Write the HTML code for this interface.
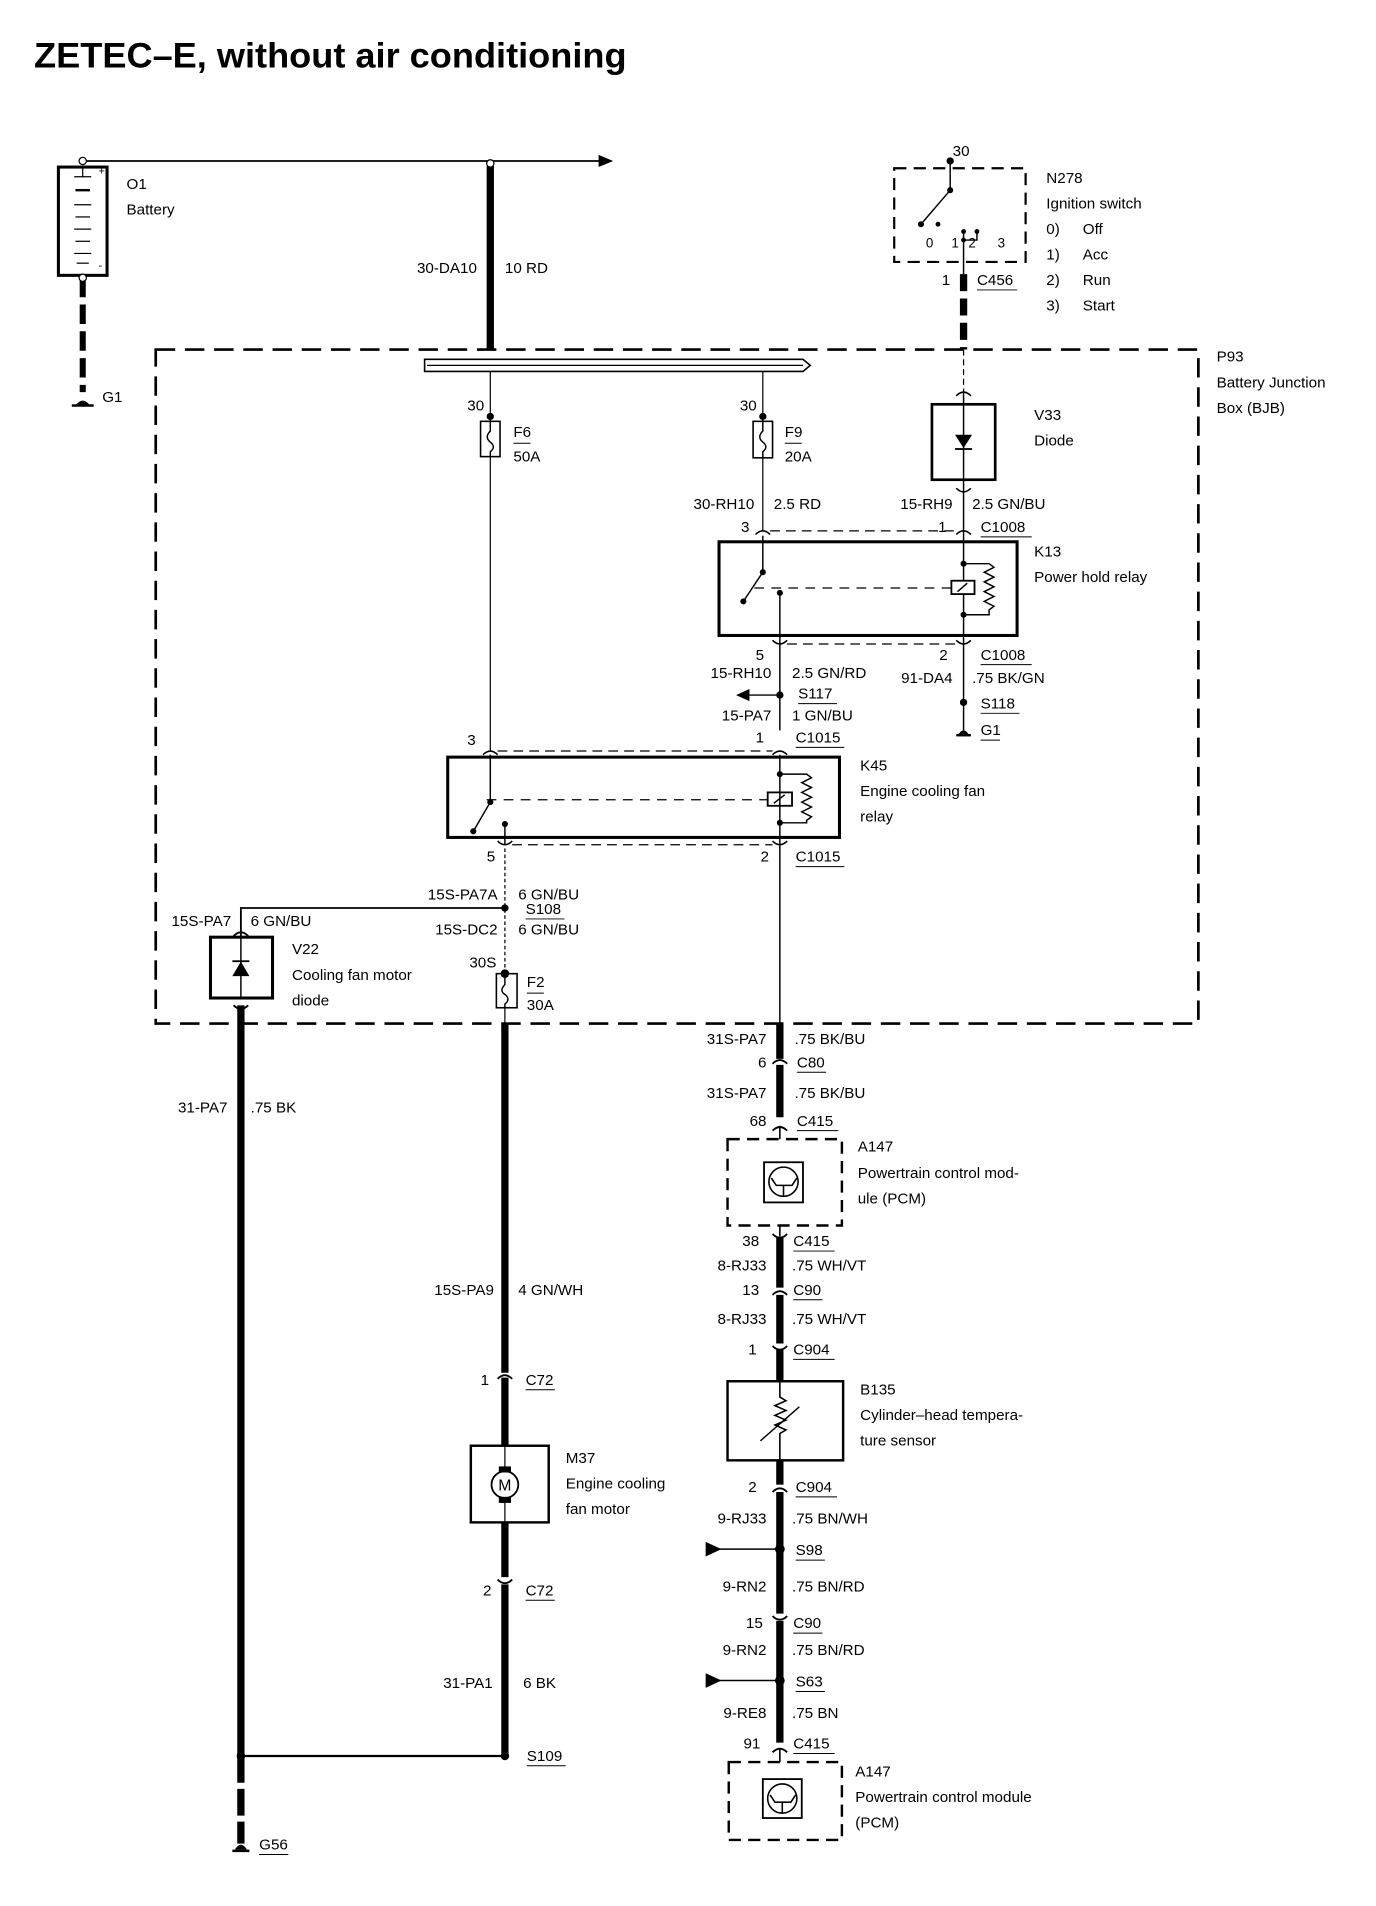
<!DOCTYPE html>
<html><head><meta charset="utf-8"><style>
html,body{margin:0;padding:0;background:#fff;}
svg{display:block;}
text{font-family:"Liberation Sans",sans-serif;font-size:12.5px;fill:#000;}
.r{text-anchor:end;}
.b{font-weight:bold;}
</style></head><body>
<svg width="1376" height="1906" viewBox="0 0 1131 1566" xmlns="http://www.w3.org/2000/svg">
<rect width="1131" height="1566" fill="#fff"/>
<text x="28" y="55" class="b" style="font-size:29px" textLength="487" lengthAdjust="spacingAndGlyphs">ZETEC–E, without air conditioning</text>

<g stroke="#000" fill="none">
<rect x="48" y="137" width="40" height="89" stroke-width="2.5"/>
<line x1="68" y1="132" x2="500" y2="132" stroke-width="1.5"/>
<line x1="68" y1="137" x2="68" y2="145" stroke-width="1"/>
<g stroke-width="1">
<line x1="61" y1="145" x2="75" y2="145"/><line x1="62" y1="156" x2="74" y2="156" stroke-width="2"/>
<line x1="61" y1="168" x2="75" y2="168"/><line x1="62" y1="178" x2="74" y2="178"/>
<line x1="61" y1="188" x2="75" y2="188"/><line x1="62" y1="198" x2="74" y2="198"/>
<line x1="61" y1="208" x2="75" y2="208"/><line x1="63" y1="216" x2="73" y2="216"/>
</g>
<line x1="68" y1="228" x2="68" y2="322" stroke-width="5" stroke-dasharray="16,6"/>
<line x1="403" y1="136" x2="403" y2="287" stroke-width="6"/>
<rect x="128" y="287" width="857" height="554" stroke-width="2.2" stroke-dasharray="16,8"/>
<path d="M349 295 H660 L666 300 L660 305 H349 Z" stroke-width="1.3"/>
<line x1="351" y1="300" x2="660" y2="300" stroke-width="1"/>
<line x1="403" y1="305" x2="403" y2="617" stroke-width="1"/>
<rect x="395" y="346" width="16" height="29" fill="#fff" stroke-width="1.3"/>
<path d="M403 346 v8 q-5 5 0 9 q5 4 0 8 v4" stroke-width="1.2"/>
<line x1="627" y1="305" x2="627" y2="436" stroke-width="1"/>
<rect x="619" y="346" width="16" height="30" fill="#fff" stroke-width="1.3"/>
<path d="M627 346 v8 q-5 5 0 9 q5 4 0 8 v5" stroke-width="1.2"/>
<rect x="735" y="138" width="108" height="77" stroke-width="1.8" stroke-dasharray="10,6"/>
<line x1="781" y1="132" x2="781" y2="156" stroke-width="1.2"/>
<line x1="781" y1="156" x2="757" y2="184" stroke-width="1.2"/>
<path d="M792 197 V190 M792 197 H803 V190" stroke-width="1.2"/>
<line x1="792" y1="197" x2="792" y2="225" stroke-width="1.2"/>
<line x1="792" y1="225" x2="792" y2="287" stroke-width="6" stroke-dasharray="14,6"/>
<line x1="792" y1="287" x2="792" y2="332" stroke-width="1" stroke-dasharray="5,3"/>
<rect x="766" y="332" width="52" height="62" stroke-width="2.2"/>
<line x1="792" y1="324" x2="792" y2="577" stroke-width="1.2"/>
<path d="M786 325 q6 -6 12 0 M786 401 q6 6 12 0" stroke-width="1.3"/>
<line x1="633" y1="436" x2="786" y2="436" stroke-width="1" stroke-dasharray="8,5"/>
<path d="M621 439 q6 -6 12 0 M786 439 q6 -6 12 0" stroke-width="1.3"/>
<rect x="591" y="445" width="245" height="77" stroke-width="2.5"/>
<line x1="627" y1="440" x2="627" y2="470" stroke-width="1.2"/>
<line x1="627" y1="470" x2="611" y2="494" stroke-width="1.2"/>
<line x1="641" y1="487" x2="641" y2="600" stroke-width="1.2"/>
<line x1="620" y1="483" x2="782" y2="483" stroke-width="1" stroke-dasharray="8,6"/>
<rect x="782" y="477" width="19" height="11" stroke-width="1.5" fill="#fff"/>
<line x1="787" y1="486" x2="795" y2="479" stroke-width="1.2"/>
<path d="M792 463 H813 l4 3 -8 4 8 4 -8 4 8 4 -8 4 8 4 -8 4 8 4 -4 3 V505 H792" stroke-width="1.2"/>
<line x1="647" y1="529" x2="786" y2="529" stroke-width="1" stroke-dasharray="8,5"/>
<path d="M635 526 q6 6 12 0 M786 526 q6 6 12 0" stroke-width="1.3"/>
<line x1="616" y1="571" x2="641" y2="571" stroke-width="1.2"/>
<line x1="792" y1="577" x2="792" y2="600" stroke-width="1.2"/>
<line x1="786" y1="604" x2="798" y2="604" stroke-width="2"/>
<line x1="409" y1="617" x2="635" y2="617" stroke-width="1" stroke-dasharray="8,5"/>
<path d="M397 620 q6 -6 12 0 M635 620 q6 -6 12 0" stroke-width="1.3"/>
<rect x="368" y="622" width="322" height="66" stroke-width="2.5"/>
<line x1="403" y1="620" x2="403" y2="659" stroke-width="1.2"/>
<line x1="403" y1="659" x2="389" y2="683" stroke-width="1.2"/>
<line x1="415" y1="677" x2="415" y2="694" stroke-width="1.2"/>
<line x1="400" y1="657" x2="631" y2="657" stroke-width="1" stroke-dasharray="8,6"/>
<rect x="631" y="651" width="20" height="11" stroke-width="1.5" fill="#fff"/>
<line x1="636" y1="660" x2="645" y2="653" stroke-width="1.2"/>
<line x1="641" y1="620" x2="641" y2="841" stroke-width="1.2"/>
<path d="M641 636 H663 l4 3 -8 4 8 4 -8 4 8 4 -8 4 8 4 -8 4 8 4 -4 3 V676 H641" stroke-width="1.2"/>
<line x1="421" y1="694" x2="635" y2="694" stroke-width="1" stroke-dasharray="8,5"/>
<path d="M409 691 q6 6 12 0 M635 691 q6 6 12 0" stroke-width="1.3"/>
<line x1="415" y1="697" x2="415" y2="800" stroke-width="1" stroke-dasharray="3,2"/>
<path d="M198 770 V746 H415" stroke-width="1.5"/>
<path d="M192 769 q6 -6 12 0 M192 826 q6 6 12 0" stroke-width="1.5"/>
<rect x="173" y="770" width="51" height="50" stroke-width="2.5"/>
<line x1="198" y1="770" x2="198" y2="820" stroke-width="1.2"/>
<rect x="408" y="800" width="17" height="28" stroke-width="1.3"/>
<path d="M415 800 v9 q-5 5 0 8 q5 4 0 8 v3" stroke-width="1.2"/>
<line x1="415" y1="828" x2="415" y2="841" stroke-width="1"/>
<line x1="198" y1="826" x2="198" y2="1443" stroke-width="6"/>
<line x1="198" y1="1443" x2="198" y2="1515" stroke-width="6" stroke-dasharray="22,5"/>
<line x1="191" y1="1521" x2="205" y2="1521" stroke-width="2"/>
<line x1="415" y1="841" x2="415" y2="1128" stroke-width="6"/>
<path d="M409 1133 q6 -6 12 0" stroke-width="1.5"/>
<line x1="415" y1="1132" x2="415" y2="1188" stroke-width="6"/>
<rect x="387" y="1188" width="64" height="63" stroke-width="2"/>
<line x1="415" y1="1188" x2="415" y2="1251" stroke-width="1"/>
<circle cx="415" cy="1220" r="11" fill="#fff" stroke-width="1.5"/>
<line x1="415" y1="1251" x2="415" y2="1296" stroke-width="6"/>
<path d="M409 1298 q6 6 12 0" stroke-width="1.5"/>
<line x1="415" y1="1302" x2="415" y2="1443" stroke-width="6"/>
<line x1="198" y1="1443" x2="415" y2="1443" stroke-width="1.8"/>
<line x1="641" y1="841" x2="641" y2="870" stroke-width="6"/>
<path d="M635 874 q6 -6 12 0" stroke-width="1.5"/>
<line x1="641" y1="875" x2="641" y2="918" stroke-width="6"/>
<path d="M635 929 q6 -6 12 0" stroke-width="1.5"/>
<line x1="641" y1="925" x2="641" y2="936" stroke-width="1.3"/>
<rect x="598" y="936" width="94" height="71" stroke-width="2" stroke-dasharray="10,6"/>
<rect x="628" y="955" width="32" height="33" stroke-width="1.5"/>
<circle cx="644" cy="971" r="12" stroke-width="1.3"/>
<path d="M634 968 L638 974 H651 L655 968 M644 974 V983" stroke-width="1.3"/>
<line x1="641" y1="1007" x2="641" y2="1016" stroke-width="1.3"/>
<path d="M635 1014 q6 6 12 0" stroke-width="1.5"/>
<line x1="641" y1="1017" x2="641" y2="1058" stroke-width="6"/>
<path d="M635 1064 q6 -6 12 0" stroke-width="1.5"/>
<line x1="641" y1="1064" x2="641" y2="1104" stroke-width="6"/>
<path d="M635 1106 q6 6 12 0" stroke-width="1.5"/>
<line x1="641" y1="1109" x2="641" y2="1135" stroke-width="6"/>
<rect x="598" y="1135" width="95" height="65" stroke-width="2"/>
<path d="M641 1135 V1148 l5 3 -9 4 9 4 -9 4 9 4 -9 4 9 4 -5 3 V1200" stroke-width="1.3"/>
<line x1="625" y1="1184" x2="657" y2="1156" stroke-width="1.2"/>
<line x1="641" y1="1200" x2="641" y2="1220" stroke-width="6"/>
<path d="M635 1226 q6 -6 12 0" stroke-width="1.5"/>
<line x1="641" y1="1226" x2="641" y2="1326" stroke-width="6"/>
<path d="M635 1328 q6 6 12 0" stroke-width="1.5"/>
<line x1="641" y1="1332" x2="641" y2="1432" stroke-width="6"/>
<path d="M635 1440 q6 -6 12 0" stroke-width="1.5"/>
<line x1="641" y1="1437" x2="641" y2="1448" stroke-width="1.3"/>
<line x1="590" y1="1273" x2="641" y2="1273" stroke-width="1.2"/>
<line x1="590" y1="1381" x2="641" y2="1381" stroke-width="1.2"/>
<rect x="599" y="1448" width="93" height="64" stroke-width="2" stroke-dasharray="10,6"/>
<rect x="627" y="1462" width="32" height="32" stroke-width="1.5"/>
<circle cx="643" cy="1478" r="12" stroke-width="1.3"/>
<path d="M633 1475 L637 1481 H650 L654 1475 M643 1481 V1490" stroke-width="1.3"/>
</g>

<g fill="#000">
<circle cx="68" cy="132" r="3" fill="#fff" stroke="#000"/>
<circle cx="403" cy="134" r="3" fill="#fff" stroke="#000"/>
<circle cx="68" cy="228" r="3" fill="#fff" stroke="#000"/>
<path d="M492 127 L504 132 L492 137 Z"/>
<path d="M62 333 q6 -8 12 0 Z"/><rect x="59" y="332" width="18" height="2"/>
<circle cx="403" cy="342" r="3"/><circle cx="627" cy="342" r="3"/>
<circle cx="781" cy="132" r="3"/><circle cx="781" cy="156" r="2.5"/><circle cx="757" cy="184" r="2.5"/>
<circle cx="771" cy="184" r="2"/><circle cx="792" cy="190" r="2"/><circle cx="803" cy="190" r="2"/><circle cx="792" cy="197" r="2"/>
<path d="M785 357 H799 L792 368 Z"/><rect x="785" y="368" width="14" height="1.5"/>
<circle cx="627" cy="470" r="2.5"/><circle cx="611" cy="494" r="2.5"/><circle cx="641" cy="487" r="2.5"/>
<circle cx="792" cy="463" r="2.5"/><circle cx="792" cy="505" r="2.5"/>
<circle cx="641" cy="571" r="3"/><path d="M605 571 L616 566 L616 576 Z"/>
<circle cx="792" cy="577" r="3"/><path d="M788 603 q4 -6 8 0 Z"/>
<circle cx="403" cy="659" r="2.5"/><circle cx="389" cy="683" r="2.5"/><circle cx="415" cy="677" r="2.5"/>
<circle cx="641" cy="636" r="2.5"/><circle cx="641" cy="676" r="2.5"/>
<circle cx="415" cy="746" r="3"/>
<path d="M191 802 H205 L198 790 Z"/><rect x="191" y="789" width="14" height="1.5"/>
<circle cx="415" cy="800" r="3.5"/>
<rect x="410" y="1205" width="10" height="5"/><rect x="410" y="1230" width="10" height="5"/>
<circle cx="198" cy="1443" r="3.5"/><circle cx="415" cy="1443" r="3.5"/>
<path d="M193 1520 q5 -8 10 0 Z"/>
<circle cx="641" cy="1273" r="4"/><path d="M580 1267 L593 1273 L580 1279 Z"/>
<circle cx="641" cy="1381" r="4"/><path d="M580 1375 L593 1381 L580 1387 Z"/>
</g>
<text x="415" y="1225" style="font-size:13px" text-anchor="middle">M</text>

<text x="104" y="155">O1</text><text x="104" y="176">Battery</text>
<text x="81" y="143" style="font-size:9px">+</text><text x="81" y="221" style="font-size:9px">-</text>
<text x="84" y="330">G1</text>
<text x="392" y="224" class="r">30-DA10</text><text x="415" y="224">10 RD</text>
<text x="790" y="128" text-anchor="middle">30</text>
<text x="860" y="150">N278</text><text x="860" y="171">Ignition switch</text>
<text x="860" y="192">0)</text><text x="890" y="192">Off</text>
<text x="860" y="213">1)</text><text x="890" y="213">Acc</text>
<text x="860" y="234">2)</text><text x="890" y="234">Run</text>
<text x="860" y="255">3)</text><text x="890" y="255">Start</text>
<text x="761" y="203" style="font-size:11px">0</text><text x="782" y="203" style="font-size:11px">1</text>
<text x="796" y="203" style="font-size:11px">2</text><text x="820" y="203" style="font-size:11px">3</text>
<text x="781" y="234" class="r">1</text><text x="803" y="234">C456</text>
<text x="1000" y="297">P93</text><text x="1000" y="318">Battery Junction</text><text x="1000" y="339">Box (BJB)</text>
<text x="398" y="337" class="r">30</text><text x="622" y="337" class="r">30</text>
<text x="422" y="359">F6</text><text x="422" y="379">50A</text>
<text x="645" y="359">F9</text><text x="645" y="379">20A</text>
<text x="850" y="345">V33</text><text x="850" y="366">Diode</text>
<text x="620" y="418" class="r">30-RH10</text><text x="636" y="418">2.5 RD</text>
<text x="783" y="418" class="r">15-RH9</text><text x="799" y="418">2.5 GN/BU</text>
<text x="616" y="437" class="r">3</text><text x="778" y="437" class="r">1</text><text x="806" y="437">C1008</text>
<text x="850" y="457">K13</text><text x="850" y="478">Power hold relay</text>
<text x="628" y="542" class="r">5</text><text x="779" y="542" class="r">2</text><text x="806" y="542">C1008</text>
<text x="634" y="557" class="r">15-RH10</text><text x="651" y="557">2.5 GN/RD</text>
<text x="783" y="561" class="r">91-DA4</text><text x="799" y="561">.75 BK/GN</text>
<text x="656" y="574">S117</text><text x="806" y="582">S118</text><text x="806" y="604">G1</text>
<text x="634" y="592" class="r">15-PA7</text><text x="651" y="592">1 GN/BU</text>
<text x="628" y="610" class="r">1</text><text x="654" y="610">C1015</text>
<text x="391" y="612" class="r">3</text>
<text x="707" y="633">K45</text><text x="707" y="654">Engine cooling fan</text><text x="707" y="675">relay</text>
<text x="407" y="708" class="r">5</text><text x="632" y="708" class="r">2</text><text x="654" y="708">C1015</text>
<text x="409" y="739" class="r">15S-PA7A</text><text x="426" y="739">6 GN/BU</text>
<text x="432" y="751">S108</text>
<text x="409" y="768" class="r">15S-DC2</text><text x="426" y="768">6 GN/BU</text>
<text x="190" y="761" class="r">15S-PA7</text><text x="206" y="761">6 GN/BU</text>
<text x="240" y="784">V22</text><text x="240" y="805">Cooling fan motor</text><text x="240" y="826">diode</text>
<text x="408" y="795" class="r">30S</text><text x="433" y="811">F2</text><text x="433" y="830">30A</text>
<text x="187" y="914" class="r">31-PA7</text><text x="206" y="914">.75 BK</text>
<text x="406" y="1064" class="r">15S-PA9</text><text x="426" y="1064">4 GN/WH</text>
<text x="402" y="1138" class="r">1</text><text x="432" y="1138">C72</text>
<text x="465" y="1202">M37</text><text x="465" y="1223">Engine cooling</text><text x="465" y="1244">fan motor</text>
<text x="404" y="1311" class="r">2</text><text x="432" y="1311">C72</text>
<text x="405" y="1387" class="r">31-PA1</text><text x="430" y="1387">6 BK</text>
<text x="433" y="1447">S109</text><text x="213" y="1520">G56</text>
<text x="630" y="858" class="r">31S-PA7</text><text x="653" y="858">.75 BK/BU</text>
<text x="630" y="877" class="r">6</text><text x="655" y="877">C80</text>
<text x="630" y="902" class="r">31S-PA7</text><text x="653" y="902">.75 BK/BU</text>
<text x="630" y="925" class="r">68</text><text x="655" y="925">C415</text>
<text x="705" y="946">A147</text><text x="705" y="968">Powertrain control mod-</text><text x="705" y="989">ule (PCM)</text>
<text x="624" y="1024" class="r">38</text><text x="652" y="1024">C415</text>
<text x="630" y="1044" class="r">8-RJ33</text><text x="651" y="1044">.75 WH/VT</text>
<text x="624" y="1064" class="r">13</text><text x="652" y="1064">C90</text>
<text x="630" y="1088" class="r">8-RJ33</text><text x="651" y="1088">.75 WH/VT</text>
<text x="622" y="1113" class="r">1</text><text x="652" y="1113">C904</text>
<text x="707" y="1146">B135</text><text x="707" y="1167">Cylinder–head tempera-</text><text x="707" y="1188">ture sensor</text>
<text x="622" y="1226" class="r">2</text><text x="654" y="1226">C904</text>
<text x="630" y="1252" class="r">9-RJ33</text><text x="651" y="1252">.75 BN/WH</text>
<text x="654" y="1278">S98</text>
<text x="630" y="1308" class="r">9-RN2</text><text x="651" y="1308">.75 BN/RD</text>
<text x="627" y="1338" class="r">15</text><text x="652" y="1338">C90</text>
<text x="630" y="1360" class="r">9-RN2</text><text x="651" y="1360">.75 BN/RD</text>
<text x="654" y="1386">S63</text>
<text x="630" y="1412" class="r">9-RE8</text><text x="651" y="1412">.75 BN</text>
<text x="625" y="1437" class="r">91</text><text x="652" y="1437">C415</text>
<text x="703" y="1460">A147</text><text x="703" y="1481">Powertrain control module</text><text x="703" y="1502">(PCM)</text>

<g stroke="#000" stroke-width="0.8">
<line x1="803" y1="238" x2="836" y2="238"/><line x1="806" y1="441" x2="848" y2="441"/>
<line x1="806" y1="546" x2="848" y2="546"/><line x1="656" y1="578" x2="688" y2="578"/>
<line x1="806" y1="586" x2="838" y2="586"/><line x1="806" y1="608" x2="822" y2="608"/>
<line x1="654" y1="614" x2="694" y2="614"/><line x1="654" y1="712" x2="694" y2="712"/>
<line x1="432" y1="755" x2="464" y2="755"/><line x1="422" y1="364" x2="436" y2="364"/>
<line x1="645" y1="364" x2="659" y2="364"/><line x1="433" y1="816" x2="447" y2="816"/>
<line x1="432" y1="1142" x2="456" y2="1142"/><line x1="432" y1="1315" x2="456" y2="1315"/>
<line x1="433" y1="1451" x2="465" y2="1451"/><line x1="213" y1="1524" x2="237" y2="1524"/>
<line x1="655" y1="881" x2="679" y2="881"/><line x1="655" y1="929" x2="689" y2="929"/>
<line x1="652" y1="1028" x2="686" y2="1028"/><line x1="652" y1="1068" x2="676" y2="1068"/>
<line x1="652" y1="1117" x2="686" y2="1117"/><line x1="654" y1="1230" x2="688" y2="1230"/>
<line x1="654" y1="1282" x2="678" y2="1282"/><line x1="652" y1="1342" x2="676" y2="1342"/>
<line x1="654" y1="1390" x2="678" y2="1390"/><line x1="652" y1="1441" x2="686" y2="1441"/>
</g>
</svg>
</body></html>
